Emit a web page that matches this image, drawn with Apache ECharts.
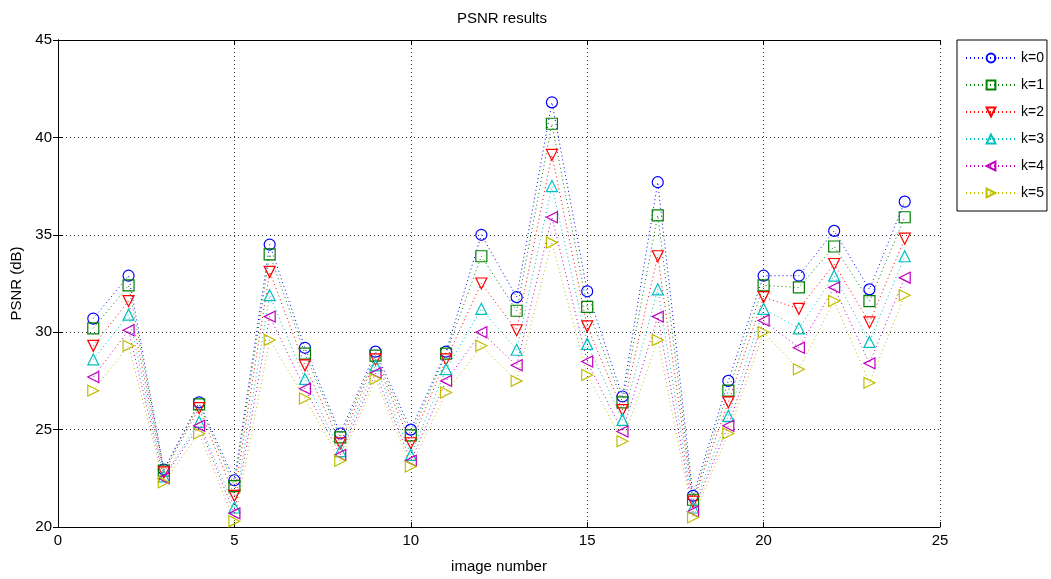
<!DOCTYPE html>
<html>
<head>
<meta charset="utf-8">
<title>PSNR results</title>
<script src="https://cdn.jsdelivr.net/npm/echarts@6/dist/echarts.min.js"></script>
<style>
html,body{margin:0;padding:0;background:#fff;}
#main{width:1051px;height:579px;}
</style>
</head>
<body>
<div id="main"></div>
<script type="text/javascript">
// image numbers on the x axis
var imageNo = [1,2,3,4,5,6,7,8,9,10,11,12,13,14,15,16,17,18,19,20,21,22,23,24];
var seriesNames = ['k=0','k=1','k=2','k=3','k=4','k=5'];
// PSNR (dB)
var k0 = [30.7,32.9,22.95,26.4,22.4,34.5,29.2,24.8,29.0,25.0,29.0,35.0,31.8,41.8,32.1,26.7,37.7,21.6,27.5,32.9,32.9,35.2,32.2,36.7];
var k1 = [30.2,32.4,22.9,26.3,22.1,34.0,28.9,24.6,28.8,24.7,28.9,33.9,31.1,40.7,31.3,26.4,36.0,21.4,27.0,32.4,32.3,34.4,31.6,35.9];
var k2 = [29.3,31.6,22.8,26.1,21.6,33.1,28.3,24.3,28.6,24.3,28.6,32.5,30.1,39.1,30.3,26.0,33.9,21.3,26.4,31.8,31.2,33.5,30.5,34.8];
var k3 = [28.6,30.9,22.6,25.4,21.0,31.9,27.6,23.9,28.3,23.7,28.1,31.2,29.1,37.5,29.4,25.5,32.2,21.0,25.7,31.2,30.2,32.9,29.5,33.9];
var k4 = [27.7,30.1,22.5,25.2,20.7,30.8,27.1,23.7,27.9,23.4,27.5,30.0,28.3,35.9,28.5,24.9,30.8,20.8,25.2,30.6,29.2,32.3,28.4,32.8];
var k5 = [27.0,29.3,22.3,24.8,20.3,29.6,26.6,23.4,27.6,23.1,26.9,29.3,27.5,34.6,27.8,24.4,29.6,20.5,24.8,30.0,28.1,31.6,27.4,31.9];
var xTicks = [0,5,10,15,20,25];
var yTicks = [20,25,30,35,40,45];

var allValues = [k0,k1,k2,k3,k4,k5];
var colors = ['#0000ff','#008000','#ff0000','#00bfbf','#bf00bf','#bfbf00'];
var symbols = [
    'circle',
    'rect',
    'path://M0,0 L10,0 L5,10 Z',
    'path://M5,0 L10,10 L0,10 Z',
    'path://M10,0 L10,10 L0,5 Z',
    'path://M0,0 L0,10 L10,5 Z'
];
var font = '"Liberation Sans", Arial, sans-serif';

var series = [];
for (var i = 0; i < allValues.length; i++) {
    var pts = [];
    for (var j = 0; j < imageNo.length; j++) {
        pts.push([imageNo[j], allValues[i][j]]);
    }
    series.push({
        name: seriesNames[i],
        type: 'line',
        data: pts,
        xAxisIndex: 0,
        yAxisIndex: 0,
        symbol: symbols[i],
        symbolSize: 11,
        showAllSymbol: true,
        animation: false,
        lineStyle: {color: colors[i], width: 1, type: [1, 3]},
        itemStyle: {color: 'rgba(255,255,255,0)', borderColor: colors[i], borderWidth: 1.2}
    });
}

function axisCommon(min, max, showLabel, pos) {
    return {
        type: 'value',
        min: min,
        max: max,
        interval: 5,
        position: pos,
        axisLine: {show: true, lineStyle: {color: '#000', width: 1}},
        axisTick: {show: true, inside: true, length: 5, lineStyle: {color: '#000'}},
        axisLabel: {show: showLabel, color: '#000', fontFamily: font, fontSize: 15, margin: 6},
        splitLine: {show: false}
    };
}

var xMain = axisCommon(xTicks[0], xTicks[xTicks.length - 1], true, 'bottom');
xMain.name = 'image number';
xMain.nameLocation = 'middle';
xMain.nameGap = 32;
xMain.nameTextStyle = {color: '#000', fontFamily: font, fontSize: 15};
xMain.splitLine = {show: true, lineStyle: {color: '#333', width: 1, type: [1, 3]}};
var xTop = axisCommon(xTicks[0], xTicks[xTicks.length - 1], false, 'top');

var yMain = axisCommon(yTicks[0], yTicks[yTicks.length - 1], true, 'left');
yMain.name = 'PSNR (dB)';
yMain.nameLocation = 'middle';
yMain.nameGap = 30;
yMain.nameTextStyle = {color: '#000', fontFamily: font, fontSize: 15};
yMain.splitLine = {show: true, lineStyle: {color: '#333', width: 1, type: [1, 3]}};
var yRight = axisCommon(yTicks[0], yTicks[yTicks.length - 1], false, 'right');

var option = {
    backgroundColor: '#fff',
    animation: false,
    title: {
        text: 'PSNR results',
        left: 452,
        top: 6,
        textStyle: {color: '#000', fontFamily: font, fontSize: 15, fontWeight: 'normal'}
    },
    grid: {left: 58, right: 111, top: 40, bottom: 51},
    legend: {
        data: seriesNames,
        orient: 'vertical',
        left: 957,
        top: 40,
        itemWidth: 50,
        itemHeight: 11,
        itemGap: 13,
        padding: [11, 3, 11, 8],
        borderColor: '#000',
        borderWidth: 1,
        backgroundColor: '#fff',
        textStyle: {color: '#000', fontFamily: font, fontSize: 14}
    },
    xAxis: [xMain, xTop],
    yAxis: [yMain, yRight],
    series: series
};

var myChart = echarts.init(document.getElementById('main'));
myChart.setOption(option);
</script>
</body>
</html>
